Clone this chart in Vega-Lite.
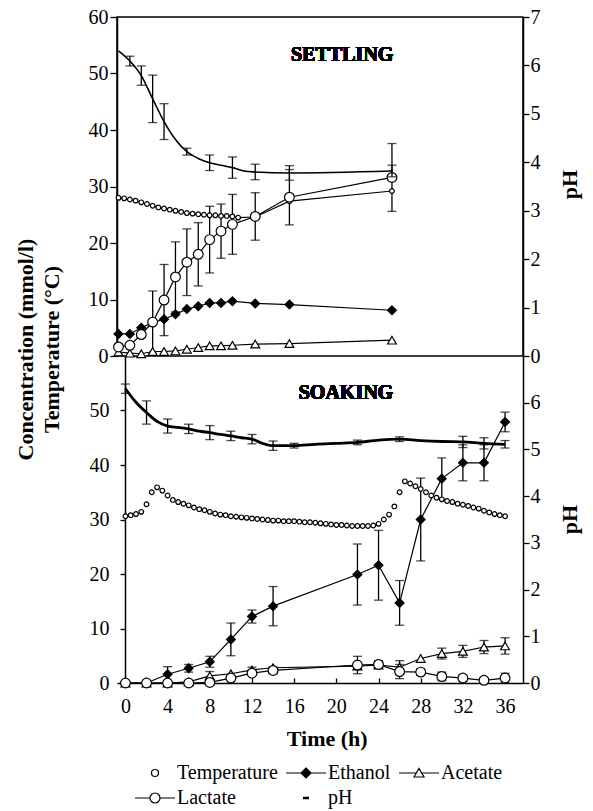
{
  "$schema": "https://vega.github.io/schema/vega-lite/v6.json",
  "padding": {"left": 13, "top": 6, "right": 5, "bottom": 5},
  "bounds": "flush",
  "spacing": 0,
  "config": {
    "font": "Liberation Serif",
    "axis": {"labelFont": "Liberation Serif", "labelFontSize": 20, "labelColor": "black", "titleFont": "Liberation Serif", "titleFontSize": 22, "titleFontWeight": "bold", "titleColor": "black", "tickColor": "black", "domainColor": "black", "domainWidth": 1.5, "tickWidth": 1.3, "grid": false, "labelFlush": false, "labelOverlap": false},
    "legend": {"labelFont": "Liberation Serif", "labelFontSize": 20, "labelColor": "black"},
    "text": {"font": "Liberation Serif"}
  },
  "datasets": {
    "settling": [
      {"s":"Temperature","t":0,"v":28.0},{"s":"Temperature","t":0.5,"v":27.9},{"s":"Temperature","t":1,"v":27.7},{"s":"Temperature","t":1.5,"v":27.5},{"s":"Temperature","t":2,"v":27.2},{"s":"Temperature","t":2.5,"v":26.9},{"s":"Temperature","t":3,"v":26.6},{"s":"Temperature","t":3.5,"v":26.3},{"s":"Temperature","t":4,"v":26.1},{"s":"Temperature","t":4.5,"v":25.9},{"s":"Temperature","t":5,"v":25.7},{"s":"Temperature","t":5.5,"v":25.5},{"s":"Temperature","t":6,"v":25.3},{"s":"Temperature","t":6.5,"v":25.2},{"s":"Temperature","t":7,"v":25.1},{"s":"Temperature","t":7.5,"v":25.0},{"s":"Temperature","t":8,"v":24.9},{"s":"Temperature","t":8.5,"v":24.9},{"s":"Temperature","t":9,"v":24.8},{"s":"Temperature","t":9.5,"v":24.8},{"s":"Temperature","t":10,"v":24.7},{"s":"Temperature","t":10.5,"v":24.5},{"s":"Temperature","t":12,"v":24.6},{"s":"Temperature","t":15,"v":27.4},{"s":"Temperature","t":24,"v":29.2},
      {"s":"Ethanol","t":0,"v":3.9},{"s":"Ethanol","t":1,"v":3.9},{"s":"Ethanol","t":2,"v":5.0},{"s":"Ethanol","t":3,"v":5.9},{"s":"Ethanol","t":4,"v":6.5},{"s":"Ethanol","t":5,"v":7.4},{"s":"Ethanol","t":6,"v":8.3},{"s":"Ethanol","t":7,"v":8.8},{"s":"Ethanol","t":8,"v":9.4},{"s":"Ethanol","t":9,"v":9.4},{"s":"Ethanol","t":10,"v":9.7},{"s":"Ethanol","t":12,"v":9.3},{"s":"Ethanol","t":15,"v":9.1},{"s":"Ethanol","t":24,"v":8.1},
      {"s":"Acetate","t":0,"v":0.7},{"s":"Acetate","t":1,"v":0.5},{"s":"Acetate","t":2,"v":0.4},{"s":"Acetate","t":3,"v":0.8},{"s":"Acetate","t":4,"v":0.8},{"s":"Acetate","t":5,"v":0.9},{"s":"Acetate","t":6,"v":1.2},{"s":"Acetate","t":7,"v":1.5},{"s":"Acetate","t":8,"v":1.8},{"s":"Acetate","t":9,"v":1.8},{"s":"Acetate","t":10,"v":1.9},{"s":"Acetate","t":12,"v":2.1},{"s":"Acetate","t":15,"v":2.2},{"s":"Acetate","t":24,"v":2.8},
      {"s":"Lactate","t":0,"v":1.6},{"s":"Lactate","t":1,"v":1.9},{"s":"Lactate","t":2,"v":3.8},{"s":"Lactate","t":3,"v":6.0,"e":5.5},{"s":"Lactate","t":4,"v":9.9,"e":6.3},{"s":"Lactate","t":5,"v":14.0,"e":6.2},{"s":"Lactate","t":6,"v":16.6,"e":5.9},{"s":"Lactate","t":7,"v":18.0,"e":5.6},{"s":"Lactate","t":8,"v":20.6,"e":5.9},{"s":"Lactate","t":9,"v":22.1,"e":4.8},{"s":"Lactate","t":10,"v":23.3,"e":5.3},{"s":"Lactate","t":12,"v":24.7,"e":4.2},{"s":"Lactate","t":15,"v":28.1,"e":4.9},{"s":"Lactate","t":24,"v":31.6,"e":6.0},
      {"s":"pH","t":0,"v":6.30},{"s":"pH","t":1,"v":6.09,"e":0.1},{"s":"pH","t":2,"v":5.79,"e":0.2},{"s":"pH","t":3,"v":5.31,"e":0.49},{"s":"pH","t":4,"v":4.84,"e":0.37},{"s":"pH","t":5,"v":4.47},{"s":"pH","t":6,"v":4.22,"e":0.07},{"s":"pH","t":7,"v":4.08},{"s":"pH","t":8,"v":3.99,"e":0.16},{"s":"pH","t":9,"v":3.94},{"s":"pH","t":10,"v":3.89,"e":0.22},{"s":"pH","t":11,"v":3.82},{"s":"pH","t":12,"v":3.80,"e":0.16},{"s":"pH","t":15,"v":3.78,"e":0.15},{"s":"pH","t":24,"v":3.82,"e":0.12}
    ],
    "soaking": [
      {"s":"Temperature","t":0,"v":30.6},{"s":"Temperature","t":0.5,"v":30.8},{"s":"Temperature","t":1,"v":31.0},{"s":"Temperature","t":1.5,"v":31.4},{"s":"Temperature","t":2,"v":32.8},{"s":"Temperature","t":2.5,"v":35.0},{"s":"Temperature","t":3,"v":35.9},{"s":"Temperature","t":3.5,"v":35.3},{"s":"Temperature","t":4,"v":34.4},{"s":"Temperature","t":4.5,"v":33.6},{"s":"Temperature","t":5,"v":33.2},{"s":"Temperature","t":5.5,"v":32.9},{"s":"Temperature","t":6,"v":32.6},{"s":"Temperature","t":6.5,"v":32.2},{"s":"Temperature","t":7,"v":31.9},{"s":"Temperature","t":7.5,"v":31.7},{"s":"Temperature","t":8,"v":31.4},{"s":"Temperature","t":8.5,"v":31.1},{"s":"Temperature","t":9,"v":30.9},{"s":"Temperature","t":9.5,"v":30.8},{"s":"Temperature","t":10,"v":30.6},{"s":"Temperature","t":10.5,"v":30.5},{"s":"Temperature","t":11,"v":30.4},{"s":"Temperature","t":11.5,"v":30.3},{"s":"Temperature","t":12,"v":30.2},{"s":"Temperature","t":12.5,"v":30.1},{"s":"Temperature","t":13,"v":30.0},{"s":"Temperature","t":13.5,"v":29.9},{"s":"Temperature","t":14,"v":29.8},{"s":"Temperature","t":14.5,"v":29.8},{"s":"Temperature","t":15,"v":29.7},{"s":"Temperature","t":15.5,"v":29.7},{"s":"Temperature","t":16,"v":29.7},{"s":"Temperature","t":16.5,"v":29.6},{"s":"Temperature","t":17,"v":29.5},{"s":"Temperature","t":17.5,"v":29.5},{"s":"Temperature","t":18,"v":29.4},{"s":"Temperature","t":18.5,"v":29.3},{"s":"Temperature","t":19,"v":29.2},{"s":"Temperature","t":19.5,"v":29.1},{"s":"Temperature","t":20,"v":29.0},{"s":"Temperature","t":20.5,"v":29.0},{"s":"Temperature","t":21,"v":28.9},{"s":"Temperature","t":21.5,"v":28.8},{"s":"Temperature","t":22,"v":28.8},{"s":"Temperature","t":22.5,"v":28.8},{"s":"Temperature","t":23,"v":28.8},{"s":"Temperature","t":23.5,"v":28.9},{"s":"Temperature","t":24,"v":29.2},{"s":"Temperature","t":24.5,"v":30.0},{"s":"Temperature","t":25,"v":30.9},{"s":"Temperature","t":25.5,"v":32.4},{"s":"Temperature","t":26,"v":35.0},{"s":"Temperature","t":26.5,"v":37.0},{"s":"Temperature","t":27,"v":36.6},{"s":"Temperature","t":27.5,"v":36.1},{"s":"Temperature","t":28,"v":35.6},{"s":"Temperature","t":28.5,"v":35.0},{"s":"Temperature","t":29,"v":34.4},{"s":"Temperature","t":29.5,"v":34.0},{"s":"Temperature","t":30,"v":33.7},{"s":"Temperature","t":30.5,"v":33.4},{"s":"Temperature","t":31,"v":33.2},{"s":"Temperature","t":31.5,"v":32.9},{"s":"Temperature","t":32,"v":32.7},{"s":"Temperature","t":32.5,"v":32.5},{"s":"Temperature","t":33,"v":32.2},{"s":"Temperature","t":33.5,"v":32.0},{"s":"Temperature","t":34,"v":31.6},{"s":"Temperature","t":34.5,"v":31.3},{"s":"Temperature","t":35,"v":31.0},{"s":"Temperature","t":35.5,"v":30.8},{"s":"Temperature","t":36,"v":30.6},
      {"s":"Ethanol","t":0,"v":0},{"s":"Ethanol","t":2,"v":0},{"s":"Ethanol","t":4,"v":1.6,"e":1.4},{"s":"Ethanol","t":6,"v":2.7,"e":0.7},{"s":"Ethanol","t":8,"v":3.9,"e":1.0},{"s":"Ethanol","t":10,"v":8.0,"e":3.0},{"s":"Ethanol","t":12,"v":12.2,"e":1.2},{"s":"Ethanol","t":14,"v":14.1,"e":3.6},{"s":"Ethanol","t":22,"v":19.9,"e":5.6},{"s":"Ethanol","t":24,"v":21.6,"e":6.4},{"s":"Ethanol","t":26,"v":14.7,"e":4.1},{"s":"Ethanol","t":28,"v":30.0,"e":7.6},{"s":"Ethanol","t":30,"v":37.5,"e":3.8},{"s":"Ethanol","t":32,"v":40.4,"e":3.3},{"s":"Ethanol","t":34,"v":40.4,"e":3.3},{"s":"Ethanol","t":36,"v":47.9,"e":1.8},
      {"s":"Acetate","t":0,"v":0},{"s":"Acetate","t":2,"v":0},{"s":"Acetate","t":4,"v":0},{"s":"Acetate","t":6,"v":0.2},{"s":"Acetate","t":8,"v":1.3,"e":0.8},{"s":"Acetate","t":10,"v":1.7},{"s":"Acetate","t":12,"v":2.4,"e":0.5},{"s":"Acetate","t":14,"v":2.8},{"s":"Acetate","t":22,"v":3.1},{"s":"Acetate","t":24,"v":3.3},{"s":"Acetate","t":26,"v":2.9,"e":1.2},{"s":"Acetate","t":28,"v":4.5},{"s":"Acetate","t":30,"v":5.4,"e":1.0},{"s":"Acetate","t":32,"v":5.8,"e":1.1},{"s":"Acetate","t":34,"v":6.6,"e":1.2},{"s":"Acetate","t":36,"v":6.8,"e":1.5},
      {"s":"Lactate","t":0,"v":0},{"s":"Lactate","t":2,"v":0},{"s":"Lactate","t":4,"v":0},{"s":"Lactate","t":6,"v":0},{"s":"Lactate","t":8,"v":0.1},{"s":"Lactate","t":10,"v":0.9},{"s":"Lactate","t":12,"v":1.8},{"s":"Lactate","t":14,"v":2.3,"e":0.6},{"s":"Lactate","t":22,"v":3.3,"e":1.6},{"s":"Lactate","t":24,"v":3.4,"e":0.7},{"s":"Lactate","t":26,"v":2.1,"e":1.3},{"s":"Lactate","t":28,"v":2.0,"e":0.6},{"s":"Lactate","t":30,"v":1.2,"e":0.8},{"s":"Lactate","t":32,"v":0.9,"e":0.6},{"s":"Lactate","t":34,"v":0.5,"e":0.4},{"s":"Lactate","t":36,"v":0.9,"e":0.9},
      {"s":"pH","t":0,"v":6.30,"e":0.1},{"s":"pH","t":1,"v":6.01},{"s":"pH","t":2,"v":5.79,"e":0.25},{"s":"pH","t":3,"v":5.60},{"s":"pH","t":4,"v":5.50,"e":0.15},{"s":"pH","t":5,"v":5.47},{"s":"pH","t":6,"v":5.44,"e":0.1},{"s":"pH","t":7,"v":5.39},{"s":"pH","t":8,"v":5.36,"e":0.15},{"s":"pH","t":9,"v":5.32},{"s":"pH","t":10,"v":5.29,"e":0.1},{"s":"pH","t":11,"v":5.25},{"s":"pH","t":12,"v":5.22,"e":0.1},{"s":"pH","t":13,"v":5.13},{"s":"pH","t":14,"v":5.08,"e":0.1},{"s":"pH","t":16,"v":5.08,"e":0.05},{"s":"pH","t":18,"v":5.11},{"s":"pH","t":20,"v":5.13},{"s":"pH","t":22,"v":5.15,"e":0.05},{"s":"pH","t":24,"v":5.20},{"s":"pH","t":26,"v":5.22,"e":0.05},{"s":"pH","t":28,"v":5.19},{"s":"pH","t":30,"v":5.17},{"s":"pH","t":32,"v":5.16,"e":0.12},{"s":"pH","t":34,"v":5.13,"e":0.12},{"s":"pH","t":36,"v":5.11,"e":0.08}
    ]
  },
  "resolve": {"scale": {"x": "independent", "y": "independent", "stroke": "shared"}},
  "vconcat": [
    {
      "width": 406,
      "height": 339,
      "view": {"stroke": "black", "strokeWidth": 1.5},
      "data": {"name": "settling"},
      "resolve": {"scale": {"y": "independent"}},
      "layer": [
        {
          "encoding": {
            "x": {"field": "t", "type": "quantitative", "scale": {"domain": [-0.13, 35.5], "nice": false, "zero": false}, "axis": null},
            "y": {"field": "v", "type": "quantitative", "scale": {"domain": [0, 60], "nice": false}, "axis": {"values": [0, 10, 20, 30, 40, 50, 60], "tickSize": 7, "labelPadding": 2, "domain": true, "title": ["Concentration (mmol/l)", "Temperature (°C)"], "titleAngle": -90, "titleX": -102, "titleY": 332, "titleAlign": "center", "titleBaseline": "top", "titleLineHeight": 26, "titleFontSize": 22}}
          },
          "layer": [
            {
              "transform": [{"filter": "datum.s !== 'pH'"}],
              "mark": {"type": "line", "color": "black", "strokeWidth": 1.2},
              "encoding": {"detail": {"field": "s", "type": "nominal"}}
            },
            {
              "transform": [{"filter": "isValid(datum.e) && datum.s !== 'pH'"}],
              "mark": {"type": "errorbar", "ticks": true, "size": 9, "thickness": 1.3, "color": "black"},
              "encoding": {"yError": {"field": "e"}}
            },
            {
              "transform": [{"filter": "datum.s !== 'pH'"}],
              "mark": {"type": "point", "strokeWidth": 1.2, "opacity": 1},
              "encoding": {
                "stroke": {"field": "s", "type": "nominal", "scale": {"domain": ["Temperature", "Ethanol", "Acetate", "Lactate", "pH"], "range": ["black", "black", "black", "black", "black"]},
                  "legend": {"title": null, "orient": "none", "direction": "horizontal", "legendX": 28, "legendY": 746, "columns": 3, "symbolSize": 400, "labelOffset": 12, "rowPadding": 5, "columnPadding": 5, "symbolStrokeColor": "black", "symbolStrokeWidth": 1.2, "symbolOpacity": 1,
                    "encoding": {"symbols": {
                      "shape": {"value": {"expr": "datum.value === 'Temperature' ? 'M-0.35,0A0.35,0.35 0 1,0 0.35,0A0.35,0.35 0 1,0 -0.35,0Z' : datum.value === 'Ethanol' ? 'M-2,0H2M0,-0.5L0.5,0L0,0.5L-0.5,0Z' : datum.value === 'Acetate' ? 'M-2,0H-0.27M0.27,0H2M-0.5,0.4L0,-0.45L0.5,0.4Z' : datum.value === 'Lactate' ? 'M-2,0H-0.5M0.5,0H2M-0.5,0A0.5,0.5 0 1,0 0.5,0A0.5,0.5 0 1,0 -0.5,0Z' : 'M-0.3,0H0.3'"}},
                      "fill": {"value": {"expr": "datum.value === 'Ethanol' || datum.value === 'pH' ? 'black' : 'white'"}},
                      "stroke": {"value": "black"},
                      "strokeWidth": {"value": {"expr": "datum.value === 'pH' ? 2.5 : 1.2"}},
                      "opacity": {"value": 1}
                    }}}},
                "shape": {"condition": [{"test": "datum.s === 'Ethanol'", "value": "diamond"}, {"test": "datum.s === 'Acetate'", "value": "triangle-up"}], "value": "circle"},
                "fill": {"condition": {"test": "datum.s === 'Ethanol'", "value": "black"}, "value": "white"},
                "size": {"condition": [{"test": "datum.s === 'Temperature'", "value": 22}, {"test": "datum.s === 'Lactate'", "value": 95}], "value": 78}
              }
            },
            {
              "mark": {"type": "text", "text": "SETTLING", "fontSize": 20, "fontWeight": "bold", "align": "left", "baseline": "alphabetic", "color": "black"},
              "encoding": {"x": {"datum": 15.14}, "y": {"datum": 52.2}}
            }
          ]
        },
        {
          "encoding": {
            "x": {"field": "t", "type": "quantitative", "scale": {"domain": [-0.13, 35.5], "nice": false, "zero": false}, "axis": null},
            "y": {"field": "v", "type": "quantitative", "scale": {"domain": [0, 7], "nice": false}, "axis": {"orient": "right", "values": [0, 1, 2, 3, 4, 5, 6, 7], "tickSize": 6, "labelPadding": 1, "domain": true, "title": "pH", "titleAngle": -90, "titleX": 46, "titleY": 167, "titleAlign": "center", "titleBaseline": "middle"}}
          },
          "transform": [{"filter": "datum.s === 'pH'"}],
          "layer": [
            {"mark": {"type": "line", "color": "black", "strokeWidth": 1.6, "interpolate": "monotone"}},
            {
              "transform": [{"filter": "isValid(datum.e)"}],
              "mark": {"type": "errorbar", "ticks": true, "size": 9, "thickness": 1.3, "color": "black"},
              "encoding": {"yError": {"field": "e"}}
            }
          ]
        }
      ]
    },
    {
      "width": 406,
      "height": 327,
      "view": {"stroke": null},
      "data": {"name": "soaking"},
      "resolve": {"scale": {"y": "independent"}},
      "layer": [
        {
          "encoding": {
            "x": {"field": "t", "type": "quantitative", "scale": {"domain": [-0.8, 37.7], "nice": false, "zero": false}, "axis": {"values": [0, 4, 8, 12, 16, 20, 24, 28, 32, 36], "tickSize": -5, "labelPadding": 18, "labelAngle": 0, "domain": true, "title": "Time (h)", "titleX": 209.7, "titleY": 62, "titleAlign": "center", "titleBaseline": "alphabetic"}},
            "y": {"field": "v", "type": "quantitative", "scale": {"domain": [0, 60], "nice": false}, "axis": {"values": [0, 10, 20, 30, 40, 50], "offset": -8, "tickSize": 5, "labelPadding": 11, "domain": true, "title": null}}
          },
          "layer": [
            {
              "transform": [{"filter": "datum.s !== 'pH' && datum.s !== 'Temperature'"}],
              "mark": {"type": "line", "color": "black", "strokeWidth": 1.2},
              "encoding": {"detail": {"field": "s", "type": "nominal"}}
            },
            {
              "transform": [{"filter": "isValid(datum.e) && datum.s !== 'pH'"}],
              "mark": {"type": "errorbar", "ticks": true, "size": 9, "thickness": 1.3, "color": "black"},
              "encoding": {"yError": {"field": "e"}}
            },
            {
              "transform": [{"filter": "datum.s !== 'pH'"}],
              "mark": {"type": "point", "strokeWidth": 1.2, "opacity": 1},
              "encoding": {
                "stroke": {"field": "s", "type": "nominal", "scale": {"domain": ["Temperature", "Ethanol", "Acetate", "Lactate", "pH"], "range": ["black", "black", "black", "black", "black"]},
                  "legend": {"title": null, "orient": "none", "direction": "horizontal", "legendX": 28, "legendY": 746, "columns": 3, "symbolSize": 400, "labelOffset": 12, "rowPadding": 5, "columnPadding": 5, "symbolStrokeColor": "black", "symbolStrokeWidth": 1.2, "symbolOpacity": 1,
                    "encoding": {"symbols": {
                      "shape": {"value": {"expr": "datum.value === 'Temperature' ? 'M-0.35,0A0.35,0.35 0 1,0 0.35,0A0.35,0.35 0 1,0 -0.35,0Z' : datum.value === 'Ethanol' ? 'M-2,0H2M0,-0.5L0.5,0L0,0.5L-0.5,0Z' : datum.value === 'Acetate' ? 'M-2,0H-0.27M0.27,0H2M-0.5,0.4L0,-0.45L0.5,0.4Z' : datum.value === 'Lactate' ? 'M-2,0H-0.5M0.5,0H2M-0.5,0A0.5,0.5 0 1,0 0.5,0A0.5,0.5 0 1,0 -0.5,0Z' : 'M-0.3,0H0.3'"}},
                      "fill": {"value": {"expr": "datum.value === 'Ethanol' || datum.value === 'pH' ? 'black' : 'white'"}},
                      "stroke": {"value": "black"},
                      "strokeWidth": {"value": {"expr": "datum.value === 'pH' ? 2.5 : 1.2"}},
                      "opacity": {"value": 1}
                    }}}},
                "shape": {"condition": [{"test": "datum.s === 'Ethanol'", "value": "diamond"}, {"test": "datum.s === 'Acetate'", "value": "triangle-up"}], "value": "circle"},
                "fill": {"condition": {"test": "datum.s === 'Ethanol'", "value": "black"}, "value": "white"},
                "size": {"condition": [{"test": "datum.s === 'Temperature'", "value": 22}, {"test": "datum.s === 'Lactate'", "value": 95}], "value": 78}
              }
            },
            {
              "mark": {"type": "text", "text": "SOAKING", "fontSize": 20, "fontWeight": "bold", "align": "left", "baseline": "alphabetic", "color": "black"},
              "encoding": {"x": {"datum": 16.43}, "y": {"datum": 52.1}}
            }
          ]
        },
        {
          "encoding": {
            "x": {"field": "t", "type": "quantitative", "scale": {"domain": [-0.8, 37.7], "nice": false, "zero": false}, "axis": {"values": [0, 4, 8, 12, 16, 20, 24, 28, 32, 36], "tickSize": -5, "labelPadding": 18, "labelAngle": 0, "domain": true, "title": "Time (h)", "titleX": 209.7, "titleY": 62, "titleAlign": "center", "titleBaseline": "alphabetic"}},
            "y": {"field": "v", "type": "quantitative", "scale": {"domain": [0, 7], "nice": false}, "axis": {"orient": "right", "values": [0, 1, 2, 3, 4, 5, 6], "tickSize": 6, "labelPadding": 1, "domain": true, "title": "pH", "titleAngle": -90, "titleX": 46, "titleY": 163, "titleAlign": "center", "titleBaseline": "middle"}}
          },
          "transform": [{"filter": "datum.s === 'pH'"}],
          "layer": [
            {"mark": {"type": "line", "color": "black", "strokeWidth": 2.8, "interpolate": "monotone"}},
            {
              "transform": [{"filter": "isValid(datum.e)"}],
              "mark": {"type": "errorbar", "ticks": true, "size": 9, "thickness": 1.3, "color": "black"},
              "encoding": {"yError": {"field": "e"}}
            }
          ]
        }
      ]
    }
  ]
}
